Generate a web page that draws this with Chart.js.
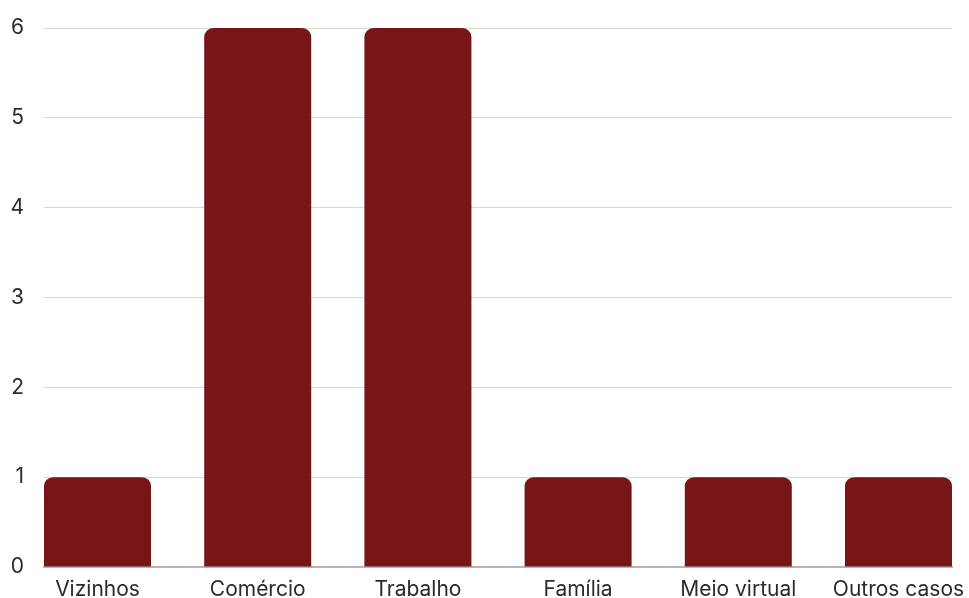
<!DOCTYPE html>
<html>
<head>
<meta charset="utf-8">
<script src="https://cdn.jsdelivr.net/npm/chart.js@4/dist/chart.umd.min.js"></script>
<style>
  html, body { margin: 0; padding: 0; background: #fff; }
  #wrap { width: 969px; height: 598px; }
</style>
</head>
<body>
<div id="wrap"><canvas id="casesChart"></canvas></div>
<script>
const categories = ['Vizinhos', 'Comércio', 'Trabalho', 'Família', 'Meio virtual', 'Outros casos'];
const counts = [1, 6, 6, 1, 1, 1];
const yTicks = [0, 1, 2, 3, 4, 5, 6];

// half a bar as a fraction of the category spacing, so bars sit flush with the grid ends
const halfBar = 0.334;

const ctx = document.getElementById('casesChart');

new Chart(ctx, {
  type: 'bar',
  data: {
    datasets: [{
      data: counts.map((v, i) => ({ x: i, y: v })),
      backgroundColor: '#771517',
      borderRadius: 9,
      borderSkipped: 'bottom',
      barPercentage: 0.668,
      categoryPercentage: 1
    }]
  },
  options: {
    responsive: true,
    maintainAspectRatio: false,
    animation: false,
    layout: {
      padding: { top: 28, right: 17, left: 0, bottom: 0 }
    },
    plugins: {
      legend: { display: false },
      tooltip: { enabled: false }
    },
    scales: {
      x: {
        type: 'linear',
        offset: false,
        min: -halfBar,
        max: categories.length - 1 + halfBar,
        grid: { display: false, drawTicks: false, offset: false },
        border: { display: true, color: '#b5b5b5', width: 2 },
        afterBuildTicks: (axis) => {
          axis.ticks = categories.map((c, i) => ({ value: i }));
        },
        afterFit: (axis) => {
          axis.height = 31;
          axis.paddingLeft = 0;
          axis.paddingRight = 0;
        },
        ticks: {
          color: '#2b2b2b',
          padding: 10,
          maxRotation: 0,
          autoSkip: false,
          font: { family: 'Inter', size: 21 },
          callback: (value) => categories[value]
        }
      },
      y: {
        min: 0,
        max: 6,
        grid: { color: '#d6d6d6', lineWidth: 1, drawTicks: false },
        border: { display: false },
        afterBuildTicks: (axis) => {
          axis.ticks = yTicks.map(v => ({ value: v }));
        },
        afterFit: (axis) => {
          axis.width = 44;
          axis.paddingTop = 0;
          axis.paddingBottom = 0;
        },
        ticks: {
          color: '#2b2b2b',
          padding: 20,
          font: { family: 'Inter', size: 21 }
        }
      }
    }
  }
});
</script>
</body>
</html>
